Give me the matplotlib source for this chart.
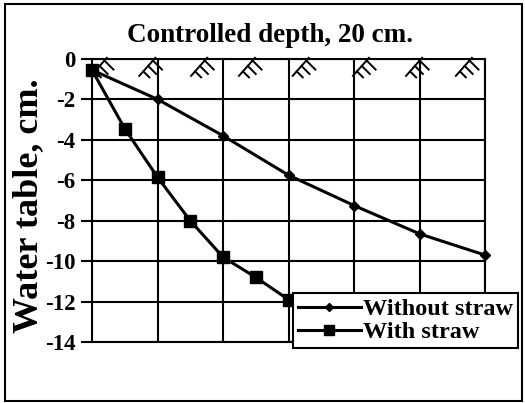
import numpy as np
import matplotlib
matplotlib.use("Agg")
import matplotlib.pyplot as plt
from matplotlib.patches import Rectangle

plt.rcParams['font.family'] = ['Liberation Serif', 'DejaVu Serif']
plt.rcParams['font.weight'] = 'bold'

# data (x = time steps, y = water table in cm)
x_without = [0, 1, 2, 3, 4, 5, 6]
y_without = [-0.55, -2.0, -3.8, -5.75, -7.25, -8.65, -9.7]
x_with = [0, 0.5, 1, 1.5, 2, 2.5, 3, 3.5]
y_with = [-0.55, -3.45, -5.85, -8.0, -9.8, -10.8, -11.9, -13.3]
y_ticks = [0, -2, -4, -6, -8, -10, -12, -14]
ground_marks = [0.12, 0.86, 1.65, 2.38, 3.2, 4.12, 4.93, 5.69]

fig = plt.figure(figsize=(5.25, 4.03), dpi=100)
ax = fig.add_axes([0.1752, 0.151, 0.749, 0.703])

ax.set_xlim(0, 6)
ax.set_ylim(-14, 0)
ax.set_xticks(range(7))
ax.set_xticklabels([])
ax.set_yticks(y_ticks)
ax.set_yticklabels([str(v) for v in y_ticks], fontsize=16.5, fontweight='bold')
ax.tick_params(axis='x', length=0)
ax.tick_params(axis='y', length=8, width=1.5, direction='out', pad=4)
ax.grid(True, color='black', linewidth=1.5)
ax.set_axisbelow(True)
for s in ax.spines.values():
    s.set_linewidth(1.5)
    s.set_color('black')

# ground surface symbols along the zero line (sizes in pixels -> data units)
px_x = 6 / 393.0
px_y = 14 / 283.0
for gx in ground_marks:
    ax.plot([gx - 9 * px_x, gx + 7 * px_x], [-17 * px_y, 1 * px_y],
            color='black', lw=1.4, zorder=2, clip_on=False)
    for t, ln in ((0.15, 9), (0.45, 8), (0.75, 6)):
        sx = gx + 7 * px_x - t * 16 * px_x
        sy = 1 * px_y - t * 18 * px_y
        ax.plot([sx, sx + ln * px_x], [sy, sy - ln * px_y],
                color='black', lw=1.4, zorder=2)

ax.plot(x_without, y_without, color='black', lw=2.2, marker='D',
        markersize=5.5, label='Without straw', zorder=3, clip_on=False)
ax.plot(x_with, y_with, color='black', lw=2.2, marker='s',
        markersize=8.5, label='With straw', zorder=3, clip_on=False)

leg = ax.legend(loc='lower right', bbox_to_anchor=(0.987, 0.136),
                bbox_transform=fig.transFigure, fancybox=False,
                framealpha=1, edgecolor='black', borderpad=0.2,
                handlelength=2.6, handletextpad=0.1, labelspacing=0.05,
                borderaxespad=0, prop={'weight': 'bold', 'size': 17.5})
leg.get_frame().set_linewidth(1.5)
leg.set_zorder(5)
for h in leg.legend_handles:
    h.set_markersize(h.get_markersize() * 0.8)

fig.text(0.515, 0.913, 'Controlled depth, 20 cm.', ha='center', va='center',
         fontsize=19.5, fontweight='bold')
fig.text(29 / 525, 0.489, 'Water table, cm.', rotation=90, ha='center',
         va='center', fontsize=26, fontweight='bold')

fig.patches.append(Rectangle((0.009, 0.004), 0.985, 0.985, transform=fig.transFigure,
                             fill=False, edgecolor='black', linewidth=1.5))

fig.savefig('out.png', dpi=100)
